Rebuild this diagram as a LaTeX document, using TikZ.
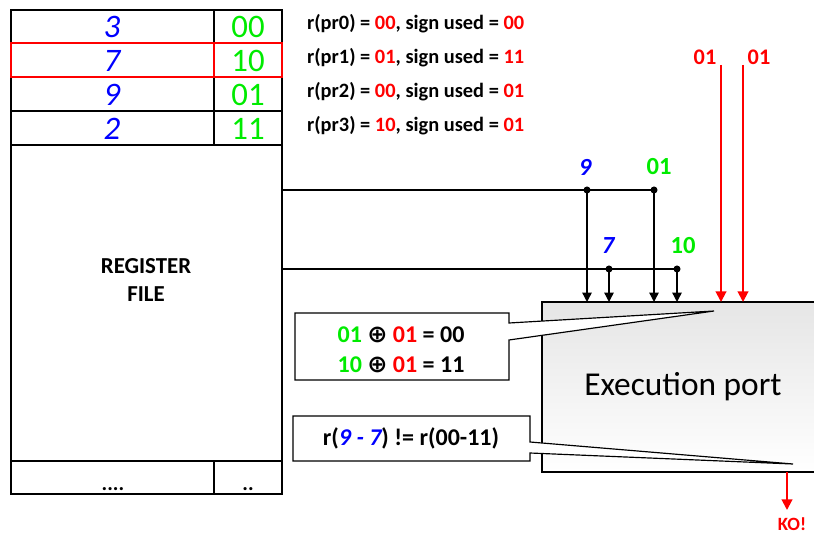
\documentclass[tikz,border=0pt]{standalone}
\usepackage{fontspec}
\setmainfont{Carlito}
\newfontfamily\symfont{DejaVu Sans}
\usetikzlibrary{arrows.meta}
\definecolor{regblue}{RGB}{0,0,255}
\definecolor{reggreen}{RGB}{0,235,0}
\definecolor{regred}{RGB}{255,0,0}
\tikzset{
  cell/.style={draw, line width=1.3pt},
  bus/.style={line width=1.2pt},
  tap/.style={line width=1.2pt, -{Triangle[width=8pt,length=8pt]}},
  sigtap/.style={regred, line width=1.7pt, -{Triangle[width=9pt,length=9pt]}},
  busdot/.style={circle, fill, inner sep=0pt, minimum size=6pt},
  callout/.style={draw, fill=white, line width=1pt},
  tabnum/.style={font=\fontsize{28}{30}\selectfont},
  info/.style={anchor=west, font=\bfseries\fontsize{17.4}{20}\selectfont},
  lbl/.style={font=\bfseries\fontsize{21}{22}\selectfont},
}
\begin{document}
\begin{tikzpicture}[x=0.03cm, y=-0.03cm]
    \useasboundingbox (0,0) rectangle (814,536);
    % register file
    \draw[cell] (11,10) rectangle (282,494);
    \foreach \y in {43,77,111,145,461}
        \draw[cell] (11,\y) -- (282,\y);
    \draw[cell] (214,10) -- (214,145);
    \draw[cell] (214,461) -- (214,494);
    \draw[regred, line width=1.8pt] (11,43) rectangle (282,77) (214,43) -- (214,77);
    \node[tabnum, regblue] (r3) at (112,27) {\itshape 3};
    \node[tabnum, regblue] (r7) at (112,61) {\itshape 7};
    \node[tabnum, regblue] (r9) at (112,95) {\itshape 9};
    \node[tabnum, regblue] (r2) at (112,129) {\itshape 2};
    \node[tabnum, reggreen] (s3) at (248,27) {00};
    \node[tabnum, reggreen] (s7) at (248,61) {10};
    \node[tabnum, reggreen] (s9) at (248,95) {01};
    \node[tabnum, reggreen] (s2) at (248,129) {11};
    \node[align=center, font=\bfseries\fontsize{19.5}{24}\selectfont] (rf) at (146,280) {REGISTER\\FILE};
    \node[font=\bfseries\fontsize{18}{20}\selectfont, anchor=base] (more) at (113,490) {....};
    \node[font=\bfseries\fontsize{18}{20}\selectfont, anchor=base] (moresign) at (248,490) {..};
    % rename table
    \node[info] (pr0) at (303,24) {r(pr0) = \textcolor{regred}{00}, sign used = \textcolor{regred}{00}};
    \node[info] (pr1) at (303,58) {r(pr1) = \textcolor{regred}{01}, sign used = \textcolor{regred}{11}};
    \node[info] (pr2) at (303,92) {r(pr2) = \textcolor{regred}{00}, sign used = \textcolor{regred}{01}};
    \node[info] (pr3) at (303,126) {r(pr3) = \textcolor{regred}{10}, sign used = \textcolor{regred}{01}};
    % execution port
    \draw[line width=1pt, top color=black!10, bottom color=white] (542,302) rectangle (818,472);
    \node[font=\fontsize{28.5}{30}\selectfont] (port) at (683,387) {Execution port};
    % buses
    \coordinate (outA) at (282,190);
    \coordinate (outB) at (282,269);
    \node[busdot] (d9) at (587,190) {};
    \node[busdot] (d01) at (654,190) {};
    \node[busdot] (d7) at (609,269) {};
    \node[busdot] (d10) at (677,269) {};
    \draw[bus] (outA) -- (d9.center) -- (d01.center);
    \draw[bus] (outB) -- (d7.center) -- (d10.center);
    \foreach \d in {d9,d01,d7,d10}
        \draw[tap] (\d.center) -- (\d.center |- 0,302);
    \node[lbl, regblue] at (585,167) {\itshape 9};
    \node[lbl, reggreen] at (659,167) {01};
    \node[lbl, regblue] at (608,246) {\itshape 7};
    \node[lbl, reggreen] at (683,246) {10};
    % sign inputs
    \coordinate (sA) at (721,65);
    \coordinate (sB) at (743,65);
    \draw[sigtap] (sA) -- (sA |- 0,302);
    \draw[sigtap] (sB) -- (sB |- 0,302);
    \node[lbl, regred, font=\bfseries\fontsize{19}{20}\selectfont] at (705,57) {01};
    \node[lbl, regred, font=\bfseries\fontsize{19}{20}\selectfont] at (759,57) {01};
    % result
    \coordinate (ko) at (787,472);
    \draw[sigtap] (ko) -- (787,510);
    \node[regred, font=\bfseries\fontsize{16}{18}\selectfont] (kolbl) at (792,524) {KO!};
    % callouts
    \draw[callout] (295,313) -- (509,313) -- (509,323) -- (714,311) -- (509,340) -- (509,380) -- (295,380) -- cycle;
    \node[align=center, font=\bfseries\fontsize{20.5}{26}\selectfont] (xor) at (401,350)
        {\textcolor{reggreen}{01} {\symfont ⊕} \textcolor{regred}{01} = 00\\
         \textcolor{reggreen}{10} {\symfont ⊕} \textcolor{regred}{01} = 11};
    \draw[callout] (293,416) -- (530,416) -- (530,442) -- (793,464) -- (530,453) -- (530,461) -- (293,461) -- cycle;
    \node[font=\bfseries\fontsize{20.5}{22}\selectfont] (check) at (411,438) {r(\textcolor{regblue}{\itshape 9 - 7}) != r(00-11)};
\end{tikzpicture}
\end{document}
